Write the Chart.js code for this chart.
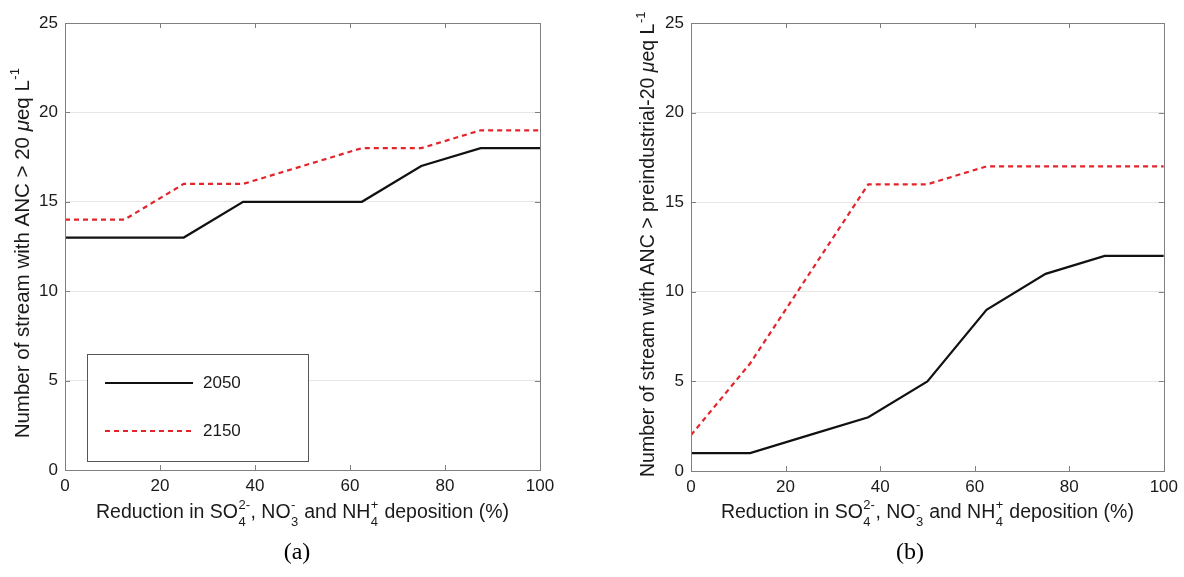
<!DOCTYPE html>
<html>
<head>
<meta charset="utf-8">
<script src="https://cdn.jsdelivr.net/npm/chart.js@4/dist/chart.umd.min.js"></script>
<style>
  html, body { margin: 0; padding: 0; background: #fff; }
  #wrap { position: relative; width: 1184px; height: 577px; }
  .panel { position: absolute; top: 0; width: 592px; height: 577px; }
  #panel-a { left: 0; }
  #panel-b { left: 592px; }
</style>
</head>
<body>
<div id="wrap">
  <div class="panel" id="panel-a"><canvas id="chart-a"></canvas></div>
  <div class="panel" id="panel-b"><canvas id="chart-b"></canvas></div>
</div>
<script>
// reduction levels (%)
const reductions = [0, 12.5, 25, 37.5, 50, 62.5, 75, 87.5, 100];
const seriesLabels = ["2050", "2150"];

// (a) streams with ANC > 20 ueq/L
const anc20Y2050 = [13, 13, 13, 15, 15, 15, 17, 18, 18];
const anc20Y2150 = [14, 14, 16, 16, 17, 18, 18, 19, 19];

// (b) streams with ANC > preindustrial-20 ueq/L
const ancPreY2050 = [1, 1, 2, 3, 5, 9, 11, 12, 12];
const ancPreY2150 = [2, 6, 11, 16, 16, 17, 17, 17, 17];

const xTicks = [0, 20, 40, 60, 80, 100];
const yTicks = [0, 5, 10, 15, 20, 25];

const FONT = "'Liberation Sans', Arial, Helvetica, sans-serif";
const BLACK = "#111111";
const RED = "#e3242b";
const FRAME = "#808080";
const GRID = "#e6e6e6";

const xTitle = [
  { t: "Reduction in SO" }, { sup: "2-", sub: "4" },
  { t: ", NO" }, { sup: "-", sub: "3" },
  { t: " and NH" }, { sup: "+", sub: "4" },
  { t: " deposition (%)" }
];

function toPoints(values) {
  return values.map((v, i) => ({ x: reductions[i], y: v }));
}

// draw a line of text with stacked super/subscripts, centred on (cx, cy)
function drawRich(ctx, segs, cx, cy, angle, size) {
  const base = `${size}px ${FONT}`;
  const small = `13px ${FONT}`;
  const widths = segs.map((s) => {
    if (s.t !== undefined) {
      ctx.font = s.italic ? `italic ${base}` : base;
      return ctx.measureText(s.t).width;
    }
    ctx.font = small;
    return Math.max(s.sup ? ctx.measureText(s.sup).width : 0, s.sub ? ctx.measureText(s.sub).width : 0) + 1;
  });
  const total = widths.reduce((a, b) => a + b, 0);
  ctx.save();
  ctx.translate(cx, cy);
  ctx.rotate(angle || 0);
  ctx.fillStyle = "#1a1a1a";
  ctx.textBaseline = "middle";
  ctx.textAlign = "left";
  let x = -total / 2;
  segs.forEach((s, i) => {
    if (s.t !== undefined) {
      ctx.font = s.italic ? `italic ${base}` : base;
      ctx.fillText(s.t, x, 0);
    } else {
      ctx.font = small;
      if (s.sup) ctx.fillText(s.sup, x + 0.5, -8);
      if (s.sub) ctx.fillText(s.sub, x + 0.5, 9);
    }
    x += widths[i];
  });
  ctx.restore();
}

const framePlugin = {
  id: "frame",
  beforeDatasetsDraw(chart) {
    const { ctx, chartArea: a, scales } = chart;
    ctx.save();
    ctx.strokeStyle = FRAME;
    ctx.lineWidth = 1;
    ctx.beginPath();
    xTicks.slice(1, -1).forEach((v) => {
      const px = Math.round(scales.x.getPixelForValue(v)) + 0.5;
      ctx.moveTo(px, a.bottom); ctx.lineTo(px, a.bottom - 5);
      ctx.moveTo(px, a.top); ctx.lineTo(px, a.top + 5);
    });
    yTicks.slice(1, -1).forEach((v) => {
      const py = Math.round(scales.y.getPixelForValue(v)) + 0.5;
      ctx.moveTo(a.left, py); ctx.lineTo(a.left + 5, py);
      ctx.moveTo(a.right, py); ctx.lineTo(a.right - 5, py);
    });
    ctx.stroke();
    ctx.restore();
  },
  afterDraw(chart, args, opts) {
    const { ctx, chartArea: a } = chart;
    ctx.save();
    ctx.strokeStyle = FRAME;
    ctx.lineWidth = 1;
    ctx.strokeRect(Math.round(a.left) + 0.5, Math.round(a.top) + 0.5,
      Math.round(a.right - a.left), Math.round(a.bottom - a.top));
    ctx.restore();

    drawRich(ctx, xTitle, (a.left + a.right) / 2, 513, 0, 19.5);
    drawRich(ctx, opts.yTitle, opts.yTitleX, opts.yTitleY, -Math.PI / 2, opts.yTitleSize);

    ctx.save();
    ctx.font = `24px 'Liberation Serif', 'Times New Roman', serif`;
    ctx.fillStyle = "#000";
    ctx.textAlign = "center";
    ctx.textBaseline = "middle";
    ctx.fillText(opts.caption, opts.captionX, 553);
    ctx.restore();

    if (opts.legend) {
      const L = opts.legend;
      ctx.save();
      ctx.fillStyle = "#fff";
      ctx.fillRect(L.x, L.y, L.w, L.h);
      ctx.strokeStyle = "#555";
      ctx.lineWidth = 1;
      ctx.strokeRect(L.x + 0.5, L.y + 0.5, L.w, L.h);
      chart.data.datasets.forEach((ds, i) => {
        const ly = L.y + 29 + i * 48;
        ctx.strokeStyle = ds.borderColor;
        ctx.lineWidth = 2;
        ctx.setLineDash(ds.borderDash || []);
        ctx.beginPath();
        ctx.moveTo(L.x + 18, ly);
        ctx.lineTo(L.x + 106, ly);
        ctx.stroke();
        ctx.setLineDash([]);
        ctx.fillStyle = "#1a1a1a";
        ctx.font = `17px ${FONT}`;
        ctx.textBaseline = "middle";
        ctx.fillText(ds.label, L.x + 116, ly);
      });
      ctx.restore();
    }
  }
};

function makeChart(canvas, y2050, y2150, pad, yWidth, xHeight, extra) {
  return new Chart(canvas, {
    type: "line",
    data: {
      datasets: [
        {
          label: seriesLabels[0],
          data: toPoints(y2050),
          borderColor: BLACK,
          borderWidth: 2.2,
          pointRadius: 0,
          tension: 0
        },
        {
          label: seriesLabels[1],
          data: toPoints(y2150),
          borderColor: RED,
          borderWidth: 2.2,
          borderDash: [5, 4],
          pointRadius: 0,
          tension: 0
        }
      ]
    },
    options: {
      responsive: true,
      maintainAspectRatio: false,
      animation: false,
      layout: { padding: pad },
      plugins: {
        legend: { display: false },
        tooltip: { enabled: false },
        frame: extra
      },
      scales: {
        x: {
          type: "linear",
          min: 0,
          max: 100,
          afterBuildTicks(scale) { scale.ticks = xTicks.map((v) => ({ value: v })); },
          afterFit(scale) { scale.height = xHeight; },
          grid: { display: false, drawTicks: false },
          border: { display: false },
          ticks: { color: "#1a1a1a", padding: 6, maxRotation: 0, font: { family: FONT, size: 17 } }
        },
        y: {
          min: 0,
          max: 25,
          afterBuildTicks(scale) { scale.ticks = yTicks.map((v) => ({ value: v })); },
          afterFit(scale) { scale.width = yWidth; },
          grid: { color: (c) => (c.tick.value === 0 || c.tick.value === 25 ? "rgba(0,0,0,0)" : GRID), drawTicks: false },
          border: { display: false },
          ticks: { color: "#1a1a1a", padding: 7, font: { family: FONT, size: 17 } }
        }
      }
    },
    plugins: [framePlugin]
  });
}

makeChart(document.getElementById("chart-a"), anc20Y2050, anc20Y2150,
  { left: 0, right: 52, top: 23, bottom: 0 }, 65, 107, {
    yTitle: [{ t: "Number of stream with ANC > 20 " }, { t: "\u03bc", italic: true }, { t: "eq L" }, { sup: "-1" }],
    yTitleX: 23,
    yTitleY: 253,
    yTitleSize: 20.5,
    caption: "(a)",
    captionX: 297,
    legend: { x: 87, y: 354, w: 221, h: 107 }
  });

makeChart(document.getElementById("chart-b"), ancPreY2050, ancPreY2150,
  { left: 0, right: 15, top: 23, bottom: 0 }, 99, 106, {
    yTitle: [{ t: "Number of stream with ANC > preindustrial-20 " }, { t: "\u03bc", italic: true }, { t: "eq L" }, { sup: "-1" }],
    yTitleX: 57,
    yTitleY: 244,
    yTitleSize: 19.5,
    caption: "(b)",
    captionX: 318
  });
</script>
</body>
</html>
